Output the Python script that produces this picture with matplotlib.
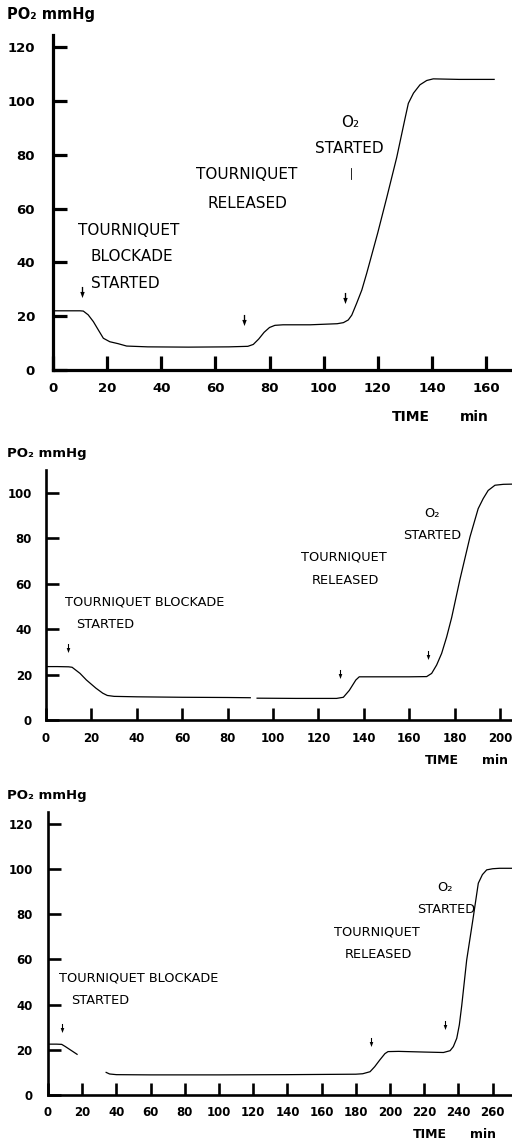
import numpy as np
import matplotlib as mpl
mpl.use("Agg")
import matplotlib.pyplot as plt
from matplotlib.path import Path

plt.rcParams['font.family'] = ['DejaVu Sans']

# ---- data (time in min, PO2 in mmHg) ----
nan = np.nan

t_a = [0, 5, 10, 11.2, 13, 14.9, 16.8, 18.6, 21, 24, 27.2, 35, 50, 65, 72, 74, 76, 78,
       80, 82, 85, 95, 105, 107.3, 109.1, 110.4, 112.2, 114.1, 115.9, 117.1, 120, 123.3,
       127, 130.1, 131.3, 133.2, 135.6, 138.1, 140.5, 150, 163]
po2_a = [22, 22, 22, 21.9, 20.5, 18, 14.8, 11.8, 10.5, 9.8, 8.9, 8.6, 8.5, 8.6, 8.8, 9.5,
         11.5, 14, 15.8, 16.6, 16.8, 16.8, 17.2, 17.6, 18.6, 20.4, 24.8, 29.7, 35.9, 40.3,
         51, 64, 79, 93.6, 99.1, 102.9, 106, 107.6, 108.2, 108, 108]

t_b = [0, 5, 10, 11.5, 15, 17.8, 22, 25, 27, 30, 40, 60, 80, 90, nan, 93, 110, 128, 131,
       133.6, 136.5, 138, 140, 150, 160, 167.7, 169.9, 172.1, 174.3, 176.5, 178.7, 182.4,
       186.8, 190.4, 192.6, 194.8, 197.8, 201.5, 206]
po2_b = [23.5, 23.5, 23.4, 23.2, 20.5, 17.6, 14, 11.8, 10.8, 10.4, 10.2, 10, 9.9, 9.8, nan,
         9.6, 9.5, 9.5, 10, 13, 17.6, 19, 19, 19, 19, 19.1, 20.5, 24.2, 29.3, 36.5, 45, 62,
         80.6, 93, 97.4, 101, 103.3, 103.7, 103.8]

t_c = [0, 5, 8, 10, 13, 17, nan, 34, 36, 40, 60, 100, 140, 180, 184, 188.3, 191, 194,
       197, 198.8, 205, 220, 231.2, 235.1, 237, 239, 240.5, 241.9, 244.8, 248.7, 251.6, 254,
       256.5, 260, 264, 273]
po2_c = [22.5, 22.5, 22.4, 21.5, 20, 18, nan, 10, 9.3, 9, 8.9, 8.9, 9, 9.2, 9.4, 10.3, 12.5,
         15.5, 18.3, 19.2, 19.3, 19, 18.8, 19.6, 21.4, 25.1, 31, 39.5, 59.7, 78.9, 93.7, 97.5,
         99.6, 100.1, 100.3, 100.3]

# arrow markers (time, PO2 level of the arrow)
arrows_a_t = [10.6, 70.4, 108]
arrows_a_y = [29, 18.5, 26.7]
arrows_b_t = [9.8, 129.5, 168.4]
arrows_b_y = [31.6, 20.2, 28.6]
arrows_c_t = [8, 189, 232.2]
arrows_c_y = [29.6, 23.5, 31]

xticks_a = [0, 20, 40, 60, 80, 100, 120, 140, 160]
yticks_a = [0, 20, 40, 60, 80, 100, 120]
xticks_b = [0, 20, 40, 60, 80, 100, 120, 140, 160, 180, 200]
yticks_b = [0, 20, 40, 60, 80, 100]
xticks_c = [0, 20, 40, 60, 80, 100, 120, 140, 160, 180, 200, 220, 240, 260]
yticks_c = [0, 20, 40, 60, 80, 100, 120]

# small down-arrow marker
ARROW = Path([(-0.12, 1.0), (0.12, 1.0), (0.12, 0.1), (0.4, 0.1), (0.0, -1.0),
              (-0.4, 0.1), (-0.12, 0.1), (-0.12, 1.0)], closed=True)

W, H = 512, 1143
fig = plt.figure(figsize=(W / 100, H / 100), dpi=100)


def make_axes(left_px, bottom_px, top_px, xlim, ylim, xticks, yticks,
              spine_w, tick_len, fsize, xpad, ypad):
    ax = fig.add_axes([left_px / W, 1 - bottom_px / H, 1 - left_px / W,
                       (bottom_px - top_px) / H])
    ax.set_xlim(*xlim)
    ax.set_ylim(*ylim)
    for s in ['top', 'right']:
        ax.spines[s].set_visible(False)
    for s in ['left', 'bottom']:
        ax.spines[s].set_linewidth(spine_w)
    ax.set_xticks(xticks)
    ax.set_yticks(yticks)
    ax.tick_params(axis='both', direction='in', length=tick_len, width=spine_w,
                   labelsize=fsize)
    ax.tick_params(axis='x', pad=xpad)
    ax.tick_params(axis='y', pad=ypad)
    for lab in ax.get_xticklabels() + ax.get_yticklabels():
        lab.set_fontweight('bold')
    ax.set_facecolor('none')
    return ax


def draw(ax, t, po2, at, ay, ms):
    ax.plot(t, po2, color='black', linewidth=0.9, clip_on=True)
    ax.plot(at, ay, linestyle='none', marker=ARROW, markersize=ms,
            color='black', markeredgewidth=0)


# ---------------- panel 1 ----------------
ax1 = make_axes(53, 370, 35, (0, 169.6), (0, 124.5), xticks_a, yticks_a,
                2.3, 10, 9.5, 9, 13)
draw(ax1, t_a, po2_a, arrows_a_t, arrows_a_y, 8)
ax1.plot([110, 110], [71, 75], color='black', linewidth=0.6)
fs1 = 11
ax1.text(9.2, 52, "TOURNIQUET", fontsize=fs1, ha='left', va='center')
ax1.text(14, 42, "BLOCKADE", fontsize=fs1, ha='left', va='center')
ax1.text(14, 32.3, "STARTED", fontsize=fs1, ha='left', va='center')
ax1.text(71.7, 72.5, "TOURNIQUET", fontsize=fs1, ha='center', va='center')
ax1.text(72, 62, "RELEASED", fontsize=fs1, ha='center', va='center')
ax1.text(109.8, 91.8, "O₂", fontsize=fs1, ha='center', va='center')
ax1.text(109.4, 82.2, "STARTED", fontsize=fs1, ha='center', va='center')
fig.text(7 / W, 1 - 15 / H, "PO₂ mmHg", fontsize=10.5, fontweight='bold',
         ha='left', va='center')
fig.text(392 / W, 1 - 417 / H, "TIME", fontsize=10, fontweight='bold',
         ha='left', va='center')
fig.text(460 / W, 1 - 417 / H, "min", fontsize=10, fontweight='bold',
         ha='left', va='center')

# ---------------- panel 2 ----------------
ax2 = make_axes(46, 720, 470, (0, 205.3), (0, 110), xticks_b, yticks_b,
                1.9, 9, 8.5, 9, 10)
draw(ax2, t_b, po2_b, arrows_b_t, arrows_b_y, 6.5)
fs2 = 9.3
ax2.text(8.4, 51.9, "TOURNIQUET BLOCKADE", fontsize=fs2, ha='left', va='center')
ax2.text(13.2, 42.2, "STARTED", fontsize=fs2, ha='left', va='center')
ax2.text(131.3, 71.6, "TOURNIQUET", fontsize=fs2, ha='center', va='center')
ax2.text(131.7, 61.5, "RELEASED", fontsize=fs2, ha='center', va='center')
ax2.text(170, 91, "O₂", fontsize=fs2, ha='center', va='center')
ax2.text(170, 81.3, "STARTED", fontsize=fs2, ha='center', va='center')
fig.text(7 / W, 1 - 453 / H, "PO₂ mmHg", fontsize=9.5, fontweight='bold',
         ha='left', va='center')
fig.text(425 / W, 1 - 760 / H, "TIME", fontsize=9, fontweight='bold',
         ha='left', va='center')
fig.text(482 / W, 1 - 760 / H, "min", fontsize=9, fontweight='bold',
         ha='left', va='center')

# ---------------- panel 3 ----------------
ax3 = make_axes(48, 1095, 812, (0, 271.3), (0, 125.2), xticks_c, yticks_c,
                1.9, 9, 8.5, 8, 11)
draw(ax3, t_c, po2_c, arrows_c_t, arrows_c_y, 6.5)
fs3 = 9.3
ax3.text(6.4, 51.8, "TOURNIQUET BLOCKADE", fontsize=fs3, ha='left', va='center')
ax3.text(13.5, 42, "STARTED", fontsize=fs3, ha='left', va='center')
ax3.text(192.4, 72.1, "TOURNIQUET", fontsize=fs3, ha='center', va='center')
ax3.text(193, 62, "RELEASED", fontsize=fs3, ha='center', va='center')
ax3.text(232, 91.6, "O₂", fontsize=fs3, ha='center', va='center')
ax3.text(232.7, 81.9, "STARTED", fontsize=fs3, ha='center', va='center')
fig.text(7 / W, 1 - 796 / H, "PO₂ mmHg", fontsize=9.5, fontweight='bold',
         ha='left', va='center')
fig.text(413 / W, 1 - 1135 / H, "TIME", fontsize=9, fontweight='bold',
         ha='left', va='center')
fig.text(470 / W, 1 - 1135 / H, "min", fontsize=9, fontweight='bold',
         ha='left', va='center')

fig.savefig("out.png", dpi=100, facecolor='white')
